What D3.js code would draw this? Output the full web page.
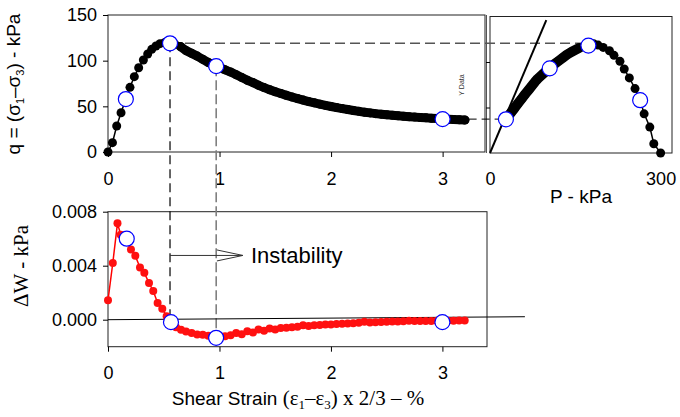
<!DOCTYPE html>
<html>
  <head>
    <script src="https://cdnjs.cloudflare.com/ajax/libs/d3/7.8.5/d3.min.js"></script>
    <style>
      body { margin: 0; background: #fff; }
      svg { font-family: "Liberation Sans", Arial, sans-serif; }
      .tick text { font-size: 18px; fill: #000; font-family: "Liberation Sans", Arial, sans-serif; }
      .tick line { stroke: #000; }
      .frame { fill: none; stroke: #222; stroke-width: 1; }
      .open { fill: #fff; stroke: #0000ff; stroke-width: 1.2; }
    </style>
  </head>
  <body>
    <svg width="680" height="417"></svg>
    <script>
      // q - strain - p, one entry per reading (sparse part up to the peak, dense after)
      var strain = [0, 0.04, 0.078, 0.117, 0.16, 0.197, 0.236, 0.275, 0.317, 0.356, 0.392, 0.43, 0.466, 0.51,
        0.55, 0.6, 0.65, 0.7, 0.75, 0.8, 0.85, 0.9, 0.95, 1.0, 1.05, 1.1, 1.15, 1.2, 1.25, 1.3, 1.35, 1.4, 1.45,
        1.5, 1.55, 1.6, 1.65, 1.7, 1.75, 1.8, 1.85, 1.9, 1.95, 2.0, 2.05, 2.1, 2.15, 2.2, 2.25, 2.3, 2.35, 2.4,
        2.45, 2.5, 2.55, 2.6, 2.65, 2.7, 2.75, 2.8, 2.85, 2.9, 2.95, 3.0, 3.05, 3.1, 3.15, 3.2];
      var q = [0, 10.2, 28.5, 43, 58, 70.8, 82.5, 92.3, 100.7, 107.3, 112.4, 116, 118.6, 120,
        119.5, 118, 115.5, 111, 108, 105, 101.5, 98, 95, 92.5, 90, 87.5, 84.5, 81.5, 78.5, 76, 73, 70.5, 68.2,
        66, 64, 62, 60.2, 58.5, 56.8, 55.2, 53.8, 52.4, 51, 49.8, 48.6, 47.5, 46.5, 45.5, 44.5, 43.6, 42.8, 42,
        41.4, 40.8, 40.2, 39.7, 39.2, 38.7, 38.2, 37.8, 37.4, 37, 36.6, 36.2, 35.9, 35.6, 35.3, 35];
      var p = [300, 288, 281, 271, 264, 255, 245, 236, 228.5, 218, 210, 199, 190, 182,
        175, 168.5, 157, 143, 135, 128.7, 121.4, 114, 107.7, 103, 98.6, 94.3, 89, 83.7, 79.5, 76.3, 72.5, 69.4, 66.5,
        63.6, 61, 58.6, 56.4, 54.3, 52.2, 50.2, 48.5, 46.8, 45.1, 43.6, 42.2, 40.8, 39.6, 38.4, 37.2, 36.1, 35.1, 34.1,
        33.4, 32.6, 31.9, 31.3, 30.7, 30.1, 29.5, 29, 28.5, 28, 27.6, 27.2, 26.8, 26.4, 26.1, 25.7];
      var denseFrom = 16; // index where the readings merge into a band

      // delta W readings
      var strainW = [0, 0.043, 0.085, 0.114, 0.168, 0.206, 0.245, 0.287, 0.326, 0.368, 0.406, 0.445, 0.487, 0.526,
        0.565, 0.61, 0.655, 0.7, 0.75, 0.8, 0.85, 0.9, 0.95, 1.0, 1.05, 1.1, 1.15, 1.2, 1.25, 1.3, 1.35, 1.4, 1.45,
        1.5, 1.55, 1.6, 1.65, 1.7, 1.75, 1.8, 1.85, 1.9, 1.95, 2.0, 2.05, 2.1, 2.15, 2.2, 2.25, 2.3, 2.35, 2.4,
        2.45, 2.5, 2.55, 2.6, 2.65, 2.7, 2.75, 2.8, 2.85, 2.9, 2.95, 3.0, 3.05, 3.1, 3.15, 3.2];
      var dW = [0.00144, 0.0042, 0.00714, 0.0063, 0.006, 0.0052, 0.00473, 0.00387, 0.00347, 0.00272, 0.00213,
        0.00124, 0.00082, 0.00025, -0.00018, -0.00055, -0.00074, -0.00088, -0.00098, -0.0011, -0.00112, -0.00118,
        -0.00122, -0.00118, -0.00122, -0.00115, -0.00098, -0.00108, -0.00085, -0.00095, -0.00072, -0.00082,
        -0.00065, -0.00072, -0.00062, -0.0006, -0.00055, -0.00052, -0.00042, -0.00046, -0.00042, -0.0004,
        -0.00036, -0.00035, -0.00031, -0.0003, -0.00028, -0.00026, -0.00022, -0.00016, -0.0002, -0.00019,
        -0.00017, -0.00016, -0.00014, -0.00014, -0.00012, -0.00007, -0.0001, -0.0001, -0.00009, -0.00009,
        -0.00008, -0.00009, -0.00007, -0.00007, -0.00006, -0.00006];

      // marked states (open circles)
      var markStrain = [0.16, 0.556, 0.97, 3.0];
      var markQ = [58, 119, 94, 36];
      var markP = [264, 173, 105, 28];
      var markQp = [58, 118, 93, 37];
      var markW = [0.006, -0.00018, -0.00134, -0.00018];
      var markStrainW = [0.168, 0.565, 0.97, 3.0];

      var qTicks = [0, 50, 100, 150];
      var strainTicks = [0, 1, 2, 3];
      var pTicks = [0, 300];
      var wTicks = [0, 0.004, 0.008];
      var slopeLine = [[0, 0], [99, 146]];
      var zeroLine = [[0, 0], [3.74, 0.00022]];

      var svg = d3.select("svg");

      var xTop = d3.scaleLinear().domain([0, 3.38]).range([108, 485]);
      var yTop = d3.scaleLinear().domain([0, 150]).range([152, 15]);
      var xP = d3.scaleLinear().domain([0, 320]).range([490, 672]);
      var yP = d3.scaleLinear().domain([0, 150]).range([153, 16.5]);
      var xBot = d3.scaleLinear().domain([0, 3.4]).range([108, 487]);
      var yBot = d3.scaleLinear().domain([-0.002, 0.008]).range([346.7, 211.7]);

      // frames
      svg.append("rect").attr("class", "frame").attr("x", 108).attr("y", 15).attr("width", 485 - 108).attr("height", 137);
      svg.append("rect").attr("class", "frame").attr("x", 490).attr("y", 16.5).attr("width", 182).attr("height", 136.5);
      svg.append("line").attr("x1", 486.5).attr("x2", 486.5).attr("y1", 15).attr("y2", 153).attr("stroke", "#555");
      svg.append("rect").attr("class", "frame").attr("x", 108).attr("y", 211.7).attr("width", 379).attr("height", 135);

      // axes
      function styleAxis(g) {
        g.select(".domain").remove();
      }
      svg.append("g").attr("transform", "translate(108,0)")
        .call(d3.axisLeft(yTop).tickValues(qTicks).tickSize(5).tickPadding(6)).call(styleAxis);
      svg.append("g").attr("transform", "translate(0,152)")
        .call(d3.axisBottom(xTop).tickValues(strainTicks).tickSize(5).tickPadding(15).tickFormat(d3.format("d"))).call(styleAxis);
      svg.append("g").attr("transform", "translate(490,0)")
        .call(d3.axisLeft(yP).tickValues([50, 100]).tickSize(4).tickFormat("")).call(styleAxis);
      svg.append("g").attr("transform", "translate(0,153)")
        .call(d3.axisBottom(xP).tickValues(pTicks).tickSize(0).tickPadding(19).tickFormat(d3.format("d"))).call(styleAxis);
      svg.append("g").attr("transform", "translate(108,0)")
        .call(d3.axisLeft(yBot).tickValues(wTicks).tickSize(5).tickPadding(6).tickFormat(d3.format(".3f"))).call(styleAxis);
      svg.append("g").attr("transform", "translate(0,346.7)")
        .call(d3.axisBottom(xBot).tickValues(strainTicks).tickSize(5).tickPadding(15).tickFormat(d3.format("d"))).call(styleAxis);

      // dashed connectors
      svg.append("line")
        .attr("x1", xTop(markStrain[1])).attr("y1", yTop(markQ[1]))
        .attr("x2", xP(markP[1])).attr("y2", yTop(markQ[1]))
        .attr("stroke", "#555").attr("stroke-width", 1.4).attr("stroke-dasharray", "10,5");
      svg.append("line")
        .attr("x1", xTop(markStrain[3])).attr("y1", yTop(markQ[3]))
        .attr("x2", xP(markP[3])).attr("y2", yTop(markQ[3]))
        .attr("stroke", "#000").attr("stroke-width", 1).attr("stroke-dasharray", "8,5");
      svg.append("line")
        .attr("x1", xTop(markStrain[1])).attr("y1", yTop(markQ[1]))
        .attr("x2", xTop(markStrain[1])).attr("y2", yBot(markW[1]) - 7)
        .attr("stroke", "#000").attr("stroke-width", 1.2).attr("stroke-dasharray", "9,5");
      svg.append("line")
        .attr("x1", xTop(markStrain[2])).attr("y1", yTop(markQ[2]))
        .attr("x2", xTop(markStrain[2])).attr("y2", yBot(markW[2]) - 7)
        .attr("stroke", "#808080").attr("stroke-width", 1.6).attr("stroke-dasharray", "10,4");

      // q vs strain
      var ptsTop = strain.map((s, i) => [xTop(s), yTop(q[i])]);
      var line = d3.line();
      svg.append("path").attr("d", line(ptsTop)).attr("fill", "none").attr("stroke", "#000").attr("stroke-width", 1.5);
      svg.append("path").attr("d", line(ptsTop.slice(denseFrom))).attr("fill", "none")
        .attr("stroke", "#000").attr("stroke-width", 9).attr("stroke-linejoin", "round").attr("stroke-linecap", "round");
      svg.append("g").selectAll("circle").data(ptsTop).enter().append("circle")
        .attr("cx", (d) => d[0]).attr("cy", (d) => d[1]).attr("r", 4.5).attr("fill", "#000");

      // q vs p
      var ptsP = p.map((v, i) => [xP(v), yP(q[i])]);
      svg.append("path").attr("d", line(ptsP)).attr("fill", "none").attr("stroke", "#000").attr("stroke-width", 1.5);
      svg.append("path").attr("d", line(ptsP.slice(denseFrom))).attr("fill", "none")
        .attr("stroke", "#000").attr("stroke-width", 10).attr("stroke-linejoin", "round").attr("stroke-linecap", "round");
      svg.append("g").selectAll("circle").data(ptsP).enter().append("circle")
        .attr("cx", (d) => d[0]).attr("cy", (d) => d[1]).attr("r", 4.5).attr("fill", "#000");
      svg.append("path").attr("d", line(slopeLine.map((d) => [xP(d[0]), yP(d[1])])))
        .attr("stroke", "#000").attr("stroke-width", 2);

      // zero line, delta W
      svg.append("path").attr("d", line(zeroLine.map((d) => [xBot(d[0]), yBot(d[1])])))
        .attr("stroke", "#000").attr("stroke-width", 1);
      var ptsW = strainW.map((s, i) => [xBot(s), yBot(dW[i])]);
      svg.append("path").attr("d", line(ptsW)).attr("fill", "none").attr("stroke", "#ff0000").attr("stroke-width", 1.5);
      svg.append("g").selectAll("circle").data(ptsW).enter().append("circle")
        .attr("cx", (d) => d[0]).attr("cy", (d) => d[1]).attr("r", 4).attr("fill", "#ff1010");

      // open circles
      svg.append("g").selectAll("circle").data(markStrain).enter().append("circle").attr("class", "open")
        .attr("cx", (d) => xTop(d)).attr("cy", (d, i) => yTop(markQ[i])).attr("r", 7.5);
      svg.append("g").selectAll("circle").data(markP).enter().append("circle").attr("class", "open")
        .attr("cx", (d) => xP(d)).attr("cy", (d, i) => yP(markQp[i])).attr("r", 7.5);
      svg.append("g").selectAll("circle").data(markStrainW).enter().append("circle").attr("class", "open")
        .attr("cx", (d) => xBot(d)).attr("cy", (d, i) => yBot(markW[i])).attr("r", 7.5);

      // instability arrow
      var ay = yBot(0.00476), ax0 = xTop(markStrain[1]), ax1 = xBot(1.21);
      svg.append("line").attr("x1", ax0).attr("x2", ax1).attr("y1", ay).attr("y2", ay).attr("stroke", "#333");
      svg.append("path").attr("d", "M" + (ax1 - 26) + "," + (ay - 5.5) + "L" + ax1 + "," + ay + "L" + (ax1 - 26) + "," + (ay + 5.5))
        .attr("fill", "none").attr("stroke", "#333").attr("stroke-width", 1);
      svg.append("text").attr("x", ax1 + 8).attr("y", ay + 8).attr("font-size", 22).text("Instability");

      // labels
      var ql = svg.append("text").attr("transform", "translate(20,84) rotate(-90)")
        .attr("text-anchor", "middle").attr("font-size", 19);
      ql.append("tspan").text("q = (σ");
      ql.append("tspan").attr("font-size", 11).attr("dy", 4).text("1");
      ql.append("tspan").attr("dy", -4).text("–σ");
      ql.append("tspan").attr("font-size", 11).attr("dy", 4).text("3");
      ql.append("tspan").attr("dy", -4).text(") - kPa");

      var serif = "'Liberation Serif', 'Times New Roman', serif";
      svg.append("text").attr("transform", "translate(28,266) rotate(-90)")
        .attr("text-anchor", "middle").attr("font-size", 21)
        .attr("font-family", serif).text("ΔW - kPa");

      svg.append("text").attr("x", 581).attr("y", 203).attr("text-anchor", "middle").attr("font-size", 19).text("P - kPa");

      var xl = svg.append("text").attr("x", 298).attr("y", 405).attr("text-anchor", "middle").attr("font-size", 19);
      xl.append("tspan").text("Shear Strain ");
      xl.append("tspan").attr("font-family", serif).attr("font-size", 21).text("(ε");
      xl.append("tspan").attr("font-family", serif).attr("font-size", 13).attr("dy", 4).text("1");
      xl.append("tspan").attr("font-family", serif).attr("font-size", 21).attr("dy", -4).text("–ε");
      xl.append("tspan").attr("font-family", serif).attr("font-size", 13).attr("dy", 4).text("3");
      xl.append("tspan").attr("font-family", serif).attr("font-size", 21).attr("dy", -4).text(") x 2/3 – %");

      svg.append("text").attr("transform", "translate(464,85) rotate(-90)")
        .attr("text-anchor", "middle").attr("font-size", 7).attr("fill", "#333").text("Y Data");
    </script>
  </body>
</html>
